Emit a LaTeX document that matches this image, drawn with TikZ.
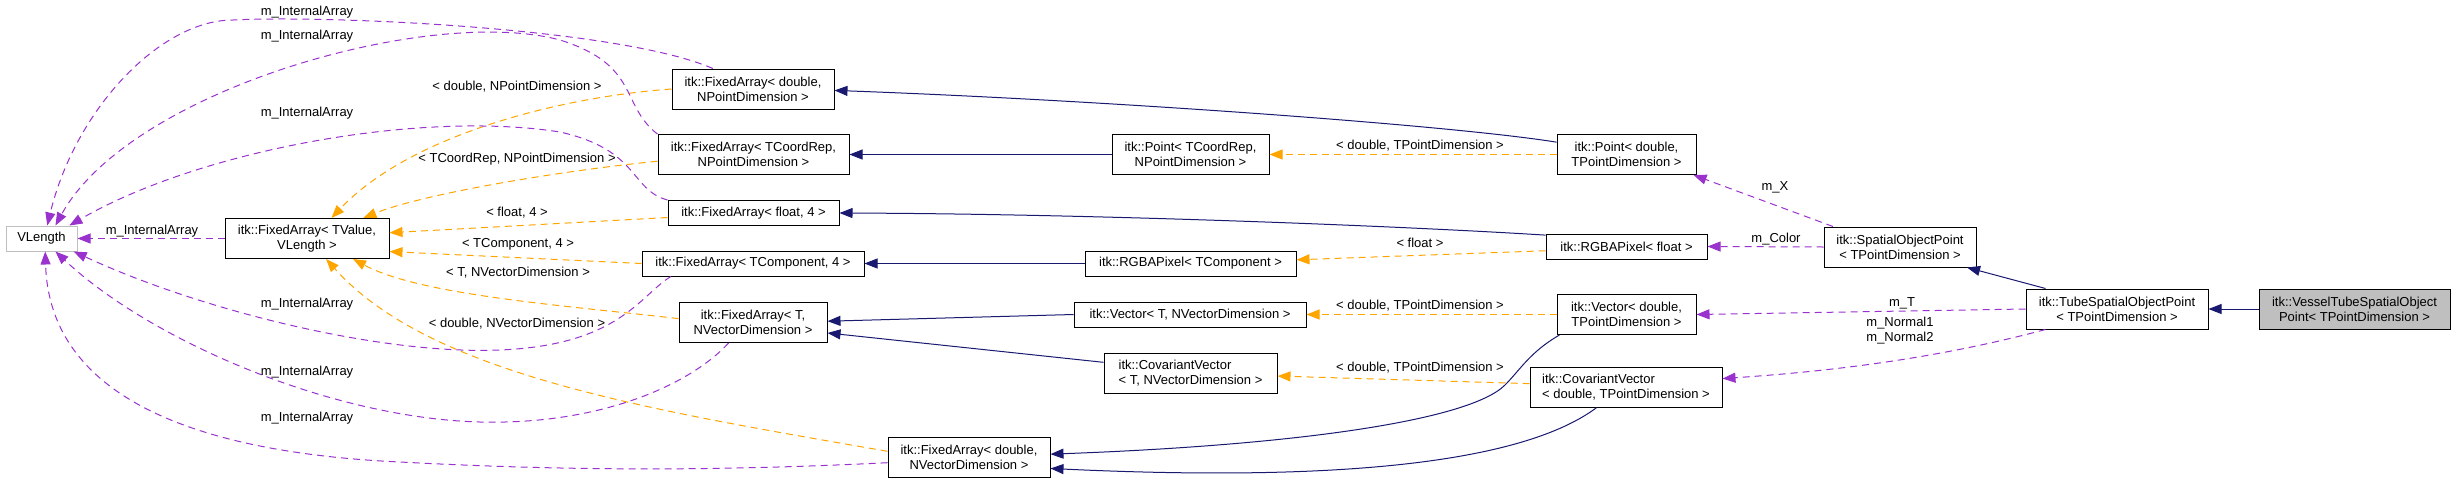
\documentclass[tikz,border=0pt]{standalone}
\usepackage{fontspec}
\setmainfont{Liberation Sans}
\usepackage{tikz}
\usetikzlibrary{arrows.meta}
\definecolor{inheritcolor}{RGB}{25, 25, 112}
\definecolor{templatecolor}{RGB}{255, 165, 0}
\definecolor{usagecolor}{RGB}{154, 50, 205}
\definecolor{undoccolor}{RGB}{191, 191, 191}
\definecolor{selfcolor}{RGB}{191, 191, 191}

\begin{document}
\begin{tikzpicture}[x=1pt, y=-1pt, every node/.style={align=center, font=\fontsize{13}{15}\selectfont},
    cls/.style={draw=black, line width=1pt, fill=white, minimum height=40pt, inner sep=2pt},
    oneline/.style={minimum height=25pt},
    inherit/.style={-{Triangle[length=13pt, width=10pt]}, inheritcolor, line width=1pt},
    tmpl/.style={-{Triangle[length=13pt, width=10pt]}, templatecolor, line width=1pt, dash pattern=on 7pt off 5pt},
    usage/.style={-{Triangle[length=13pt, width=10pt]}, usagecolor, line width=1pt, dash pattern=on 7pt off 5pt},
    lbl/.style={inner sep=0pt}]
        \useasboundingbox (0, 0) rectangle (2456, 485);

        % Left column
        \node[cls, oneline, draw=undoccolor, minimum width=71pt] (vlen) at (41.5, 238.5) {VLength};
        \node[cls, minimum width=164pt] (fa1) at (307, 238.5) {itk::FixedArray< TValue,\\VLength >};

        % FixedArray instantiations
        \node[cls, minimum width=162pt] (fa2) at (753, 89) {itk::FixedArray< double,\\NPointDimension >};
        \node[cls, minimum width=191pt] (fa3) at (753.5, 154.5) {itk::FixedArray< TCoordRep,\\NPointDimension >};
        \node[cls, oneline, minimum width=171pt] (fa4) at (753.5, 213) {itk::FixedArray< float, 4 >};
        \node[cls, oneline, minimum width=222pt] (fa5) at (753, 263.5) {itk::FixedArray< TComponent, 4 >};
        \node[cls, minimum width=148pt] (fa6) at (753, 322.5) {itk::FixedArray< T,\\NVectorDimension >};
        \node[cls, minimum width=162pt] (fa7) at (969, 457) {itk::FixedArray< double,\\NVectorDimension >};

        % Templates
        \node[cls, minimum width=157pt] (pt1) at (1190.5, 154.5) {itk::Point< TCoordRep,\\NPointDimension >};
        \node[cls, oneline, minimum width=211pt] (rgba1) at (1190.5, 263.5) {itk::RGBAPixel< TComponent >};
        \node[cls, oneline, minimum width=232pt] (vec1) at (1190, 314.5) {itk::Vector< T, NVectorDimension >};
        \node[cls, minimum width=173pt, align=left] (cov1) at (1190.5, 373) {itk::CovariantVector\\< T, NVectorDimension >};

        % Instantiated members
        \node[cls, minimum width=139pt] (pt2) at (1626.5, 154.5) {itk::Point< double,\\TPointDimension >};
        \node[cls, oneline, minimum width=161pt] (rgba2) at (1626.5, 246.5) {itk::RGBAPixel< float >};
        \node[cls, minimum width=139pt] (vec2) at (1626.5, 314.5) {itk::Vector< double,\\TPointDimension >};
        \node[cls, minimum width=192pt, align=left] (cov2) at (1626, 387) {itk::CovariantVector\\< double, TPointDimension >};

        % Point classes
        \node[cls, minimum width=152pt] (sop) at (1900, 247) {itk::SpatialObjectPoint\\< TPointDimension >};
        \node[cls, minimum width=182pt] (tube) at (2117, 309) {itk::TubeSpatialObjectPoint\\< TPointDimension >};
        \node[cls, minimum width=191pt, fill=selfcolor] (vessel) at (2354.5, 309) {itk::VesselTubeSpatialObject\\Point< TPointDimension >};

        % Inheritance
        \draw[inherit] (vessel.west) -- (tube.east);
        \draw[inherit] (tube.164) -- (sop.-17);
        \draw[inherit] (pt2.170) .. controls (1450, 125) and (1100, 100) .. (fa2.-1);
        \draw[inherit] (pt1.west) -- (fa3.east);
        \draw[inherit] (rgba2.172) .. controls (1400, 226) and (1100, 214) .. (fa4.east);
        \draw[inherit] (rgba1.west) -- (fa5.east);
        \draw[inherit] (vec1.west) -- (fa6.1);
        \draw[inherit] (cov1.173) -- (fa6.-8);
        \draw[inherit] (vec2.-163) .. controls (1530, 352) and (1520, 370) .. (1505, 385) .. controls (1470, 420) and (1300, 445) .. (fa7.2);
        \draw[inherit] (cov2.-145) .. controls (1540, 450) and (1400, 485) .. (fa7.-8.5);

        % Template instances
        \draw[tmpl] (pt2.west) -- (pt1.east);
        \draw[tmpl] (rgba2.183) -- (rgba1.2);
        \draw[tmpl] (vec2.west) -- (vec1.east);
        \draw[tmpl] (cov2.178) -- (cov1.-2);
        \draw[tmpl] (fa2.west) .. controls (560, 97) and (410, 135) .. (fa1.40);
        \draw[tmpl] (fa3.184) .. controls (550, 172) and (420, 195) .. (fa1.20);
        \draw[tmpl] (fa4.183) -- (fa1.4);
        \draw[tmpl] (fa5.west) -- (fa1.-9);
        \draw[tmpl] (fa6.177) .. controls (560, 305) and (420, 295) .. (fa1.-24);
        \draw[tmpl] (fa7.176) .. controls (650, 410) and (430, 375) .. (fa1.-47);

        % Members
        \draw[usage] (fa1.west) -- (vlen.east);
        \draw[usage] (fa2.153) .. controls (620, 28) and (330, 15) .. (233, 20) .. controls (160, 20) and (75, 110) .. (vlen.66);
        \draw[usage] (fa3.168) .. controls (620, 105) and (640, 65) .. (560, 40) .. controls (430, 5) and (130, 90) .. (vlen.43);
        \draw[usage] (fa4.north west) .. controls (630, 190) and (640, 150) .. (560, 132) .. controls (420, 110) and (200, 150) .. (vlen.25);
        \draw[usage] (fa5.189) .. controls (640, 295) and (620, 345) .. (500, 350) .. controls (380, 355) and (200, 310) .. (vlen.-22);
        \draw[usage] (fa6.220) .. controls (690, 385) and (600, 425) .. (480, 422) .. controls (330, 418) and (150, 340) .. (vlen.-43);
        \draw[usage] (fa7.184) .. controls (700, 472) and (550, 470) .. (400, 462) .. controls (250, 455) and (50, 420) .. (vlen.-74);
        \draw[usage] (sop.163) -- (pt2.-17);
        \draw[usage] (sop.west) -- (rgba2.east);
        \draw[usage] (tube.west) -- (vec2.east);
        \draw[usage] (tube.-164) .. controls (1950, 355) and (1850, 370) .. (cov2.5);

        % Edge labels
        \node[lbl] (lInt1) at (307, 12) {m\_InternalArray};
        \node[lbl] (lInt2) at (307, 36) {m\_InternalArray};
        \node[lbl] (lInt3) at (307, 113) {m\_InternalArray};
        \node[lbl] (lInt4) at (152, 231) {m\_InternalArray};
        \node[lbl] (lInt5) at (307, 304) {m\_InternalArray};
        \node[lbl] (lInt6) at (307, 372) {m\_InternalArray};
        \node[lbl] (lInt7) at (307, 418) {m\_InternalArray};
        \node[lbl] (lArg1) at (517, 87) {< double, NPointDimension >};
        \node[lbl] (lArg2) at (517, 159) {< TCoordRep, NPointDimension >};
        \node[lbl] (lArg3) at (517, 213) {< float, 4 >};
        \node[lbl] (lArg4) at (518, 244) {< TComponent, 4 >};
        \node[lbl] (lArg5) at (518, 273) {< T, NVectorDimension >};
        \node[lbl] (lArg6) at (517, 324) {< double, NVectorDimension >};
        \node[lbl] (lArg7) at (1420, 146) {< double, TPointDimension >};
        \node[lbl] (lArg8) at (1420, 243) {< float >};
        \node[lbl] (lArg9) at (1420, 306) {< double, TPointDimension >};
        \node[lbl] (lArg10) at (1420, 368) {< double, TPointDimension >};
        \node[lbl] (lX) at (1775, 187) {m\_X};
        \node[lbl] (lColor) at (1776, 239) {m\_Color};
        \node[lbl] (lT) at (1902, 303) {m\_T};
        \node[lbl] (lNormal) at (1900, 330.5) {m\_Normal1\\m\_Normal2};

    \end{tikzpicture}
\end{document}
